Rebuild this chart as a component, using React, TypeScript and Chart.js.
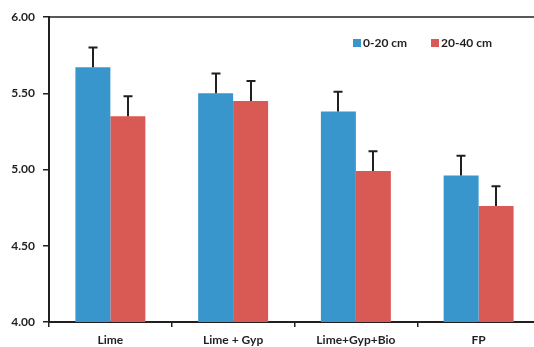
import React, { useEffect, useRef } from "react";
import { Chart, registerables } from "chart.js";

Chart.register(...registerables);

const categories = ["Lime", "Lime + Gyp", "Lime+Gyp+Bio", "FP"];
const seriesNames = ["0-20 cm", "20-40 cm"];
const values0to20 = [5.67, 5.5, 5.38, 4.96];
const values20to40 = [5.35, 5.45, 4.99, 4.76];
const errors0to20 = [0.13, 0.13, 0.13, 0.13];
const errors20to40 = [0.13, 0.13, 0.13, 0.13];
const yTickValues = [4.0, 4.5, 5.0, 5.5, 6.0];

const BLUE = "#3996cc";
const RED = "#d95a54";
const DARK = "#231f20";
const FONT = "Lato, 'Open Sans', sans-serif";

export default function App() {
  const ref = useRef<HTMLCanvasElement | null>(null);

  useEffect(() => {
    if (!ref.current) return;
    const errs = [errors0to20, errors20to40];

    const errorBarPlugin = {
      id: "errorBars",
      afterDatasetsDraw(chart: any) {
        const ctx = chart.ctx;
        const y = chart.scales.y;
        ctx.save();
        ctx.strokeStyle = DARK;
        ctx.lineWidth = 2;
        chart.data.datasets.forEach((ds: any, i: number) => {
          const meta = chart.getDatasetMeta(i);
          meta.data.forEach((bar: any, j: number) => {
            const v = ds.data[j];
            const top = y.getPixelForValue(v + errs[i][j]);
            const base = y.getPixelForValue(v);
            const x = Math.round(bar.x);
            ctx.beginPath();
            ctx.moveTo(x, base);
            ctx.lineTo(x, top);
            ctx.moveTo(x - 4.5, top);
            ctx.lineTo(x + 4.5, top);
            ctx.stroke();
          });
        });
        ctx.restore();
      },
      afterDraw(chart: any) {
        const ctx = chart.ctx;
        const area = chart.chartArea;
        ctx.save();
        // top border line
        ctx.strokeStyle = DARK;
        ctx.lineWidth = 1.5;
        ctx.beginPath();
        ctx.moveTo(area.left, area.top);
        ctx.lineTo(chart.width, area.top);
        ctx.stroke();
        // legend
        ctx.font = "bold 12px " + FONT;
        ctx.textBaseline = "middle";
        ctx.textAlign = "left";
        const items = [
          { x: 353, color: BLUE, label: seriesNames[0] },
          { x: 431, color: RED, label: seriesNames[1] },
        ];
        items.forEach((it) => {
          ctx.fillStyle = it.color;
          ctx.fillRect(it.x, 39, 8, 8);
          ctx.fillStyle = DARK;
          ctx.fillText(it.label, it.x + 10, 43.5);
        });
        ctx.restore();
      },
    };

    const chart = new Chart(ref.current, {
      type: "bar",
      data: {
        labels: categories,
        datasets: [
          {
            label: seriesNames[0],
            data: values0to20,
            backgroundColor: BLUE,
            borderWidth: 0,
            barPercentage: 1,
            categoryPercentage: 0.57,
          },
          {
            label: seriesNames[1],
            data: values20to40,
            backgroundColor: RED,
            borderWidth: 0,
            barPercentage: 1,
            categoryPercentage: 0.57,
          },
        ],
      },
      options: {
        animation: false,
        responsive: false,
        maintainAspectRatio: false,
        layout: { padding: { top: 17, right: 1, left: 0, bottom: 0 } },
        plugins: {
          legend: { display: false },
          tooltip: { enabled: false },
        },
        scales: {
          x: {
            grid: {
              display: true,
              drawOnChartArea: false,
              drawTicks: true,
              tickLength: 5,
              color: DARK,
              lineWidth: 1.5,
              offset: true,
            },
            border: { display: true, color: DARK, width: 2 },
            ticks: {
              color: DARK,
              font: { family: FONT, size: 12, weight: "bold" },
              padding: 6,
              maxRotation: 0,
            },
            afterFit(scale: any) {
              scale.height = 25;
            },
          },
          y: {
            min: 4,
            max: 6,
            afterBuildTicks(scale: any) {
              scale.ticks = yTickValues.map((v) => ({ value: v }));
            },
            grid: {
              display: true,
              drawOnChartArea: false,
              drawTicks: true,
              tickLength: 6,
              color: DARK,
              lineWidth: 1.5,
            },
            border: { display: true, color: DARK, width: 2 },
            ticks: {
              color: DARK,
              font: { family: FONT, size: 12, weight: "bold" },
              padding: 8,
              callback: (v: any) => Number(v).toFixed(2),
            },
            afterFit(scale: any) {
              scale.width = 49;
            },
          },
        },
      },
      plugins: [errorBarPlugin],
    });

    return () => chart.destroy();
  }, []);

  return (
    <div
      style={{
        position: "fixed",
        left: 0,
        top: 0,
        width: 534,
        height: 347,
        overflow: "hidden",
        background: "#fff",
      }}
    >
      <canvas ref={ref} width={541} height={347} style={{ display: "block", width: 541, height: 347 }} />
    </div>
  );
}
